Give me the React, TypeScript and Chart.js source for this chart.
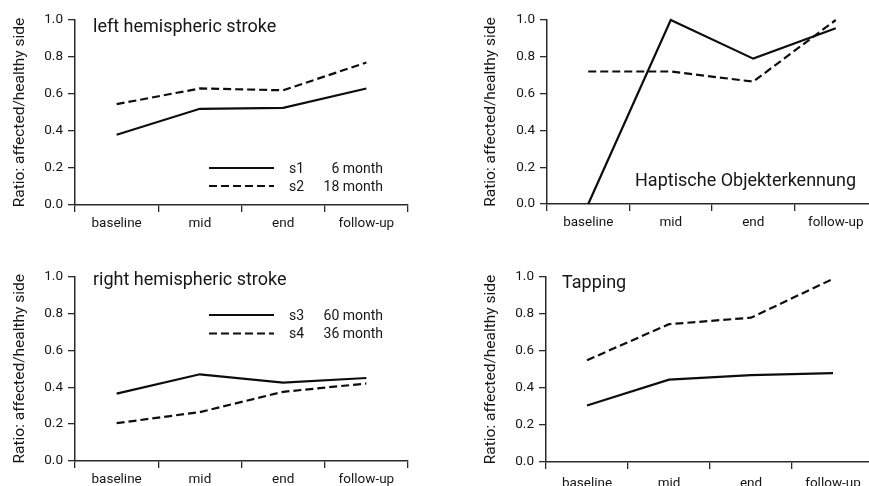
import React, { useEffect, useRef } from "react";
import { Chart, registerables } from "chart.js";

Chart.register(...registerables);

// ---------- data ----------
const categories = ["baseline", "mid", "end", "follow-up"];
const yTickValues = [0, 0.2, 0.4, 0.6, 0.8, 1.0];
const yAxisTitle = "Ratio: affected/healthy side";

const leftS1 = [0.38, 0.52, 0.525, 0.63];
const leftS2 = [0.545, 0.63, 0.62, 0.77];
const haptSolid = [0.0, 1.0, 0.79, 0.955];
const haptDashed = [0.72, 0.72, 0.665, 1.0];
const rightS3 = [0.365, 0.47, 0.425, 0.45];
const rightS4 = [0.205, 0.265, 0.375, 0.42];
const tapSolid = [0.305, 0.445, 0.47, 0.48];
const tapDashed = [0.55, 0.745, 0.78, 0.99];

const panelTitles = [
  "left hemispheric stroke",
  "Haptische Objekterkennung",
  "right hemispheric stroke",
  "Tapping",
];
const topLegendIds = ["s1", "s2"];
const topLegendDurations = ["6 month", "18 month"];
const bottomLegendIds = ["s3", "s4"];
const bottomLegendDurations = ["60 month", "36 month"];

// ---------- styles ----------
const FONT = "Roboto, 'DejaVu Sans', sans-serif";
const TEXT = "#161616";
const AXIS = "#2a2a2a";
const LINE = "#0d0d0d";
const DASH = [8, 4];

type Legend = {
  ids: string[];
  durs: string[];
  lineX0: number;
  lineX1: number;
  textX: number;
  durRight: number;
  y0: number;
  step: number;
};

type Panel = {
  left: number;
  top: number;
  w: number;
  h: number;
  padLeft: number;
  padTop: number;
  padRight: number;
  yWidth: number;
  xHeight: number;
  xPad: number;
  solid: number[];
  dashed: number[];
  title: string;
  titleDx: number;
  titleDy: number;
  legend?: Legend;
};

const panels: Panel[] = [
  {
    left: 0, top: 0, w: 434, h: 243,
    padLeft: 0, padTop: 20, padRight: 26, yWidth: 75, xHeight: 38, xPad: 4,
    solid: leftS1, dashed: leftS2, title: panelTitles[0], titleDx: 18, titleDy: 12,
    legend: { ids: topLegendIds, durs: topLegendDurations, lineX0: 134, lineX1: 199, textX: 214, durRight: 308, y0: 148, step: 18 },
  },
  {
    left: 434, top: 0, w: 450, h: 243,
    padLeft: 37, padTop: 20, padRight: 7, yWidth: 76, xHeight: 39, xPad: 4,
    solid: haptSolid, dashed: haptDashed, title: panelTitles[1], titleDx: 88, titleDy: 166,
  },
  {
    left: 0, top: 243, w: 434, h: 260,
    padLeft: 0, padTop: 33.5, padRight: 26, yWidth: 75, xHeight: 42, xPad: 4,
    solid: rightS3, dashed: rightS4, title: panelTitles[2], titleDx: 18, titleDy: 8.5,
    legend: { ids: bottomLegendIds, durs: bottomLegendDurations, lineX0: 134, lineX1: 199, textX: 214, durRight: 308, y0: 38.5, step: 18.5 },
  },
  {
    left: 434, top: 243, w: 450, h: 260,
    padLeft: 37, padTop: 34, padRight: 10, yWidth: 75, xHeight: 41, xPad: 7,
    solid: tapSolid, dashed: tapDashed, title: panelTitles[3], titleDx: 16, titleDy: 11,
  },
];

function makeOverlay(p: Panel) {
  return {
    id: "overlay",
    afterDraw(chart: any) {
      const { ctx, chartArea } = chart;
      ctx.save();
      ctx.fillStyle = TEXT;
      ctx.font = `18px ${FONT}`;
      ctx.textAlign = "left";
      ctx.textBaseline = "alphabetic";
      ctx.fillText(p.title, chartArea.left + p.titleDx, chartArea.top + p.titleDy);
      if (p.legend) {
        const lg = p.legend;
        chart.data.datasets.forEach((ds: any, i: number) => {
          const y = chartArea.top + lg.y0 + i * lg.step;
          ctx.strokeStyle = ds.borderColor;
          ctx.lineWidth = ds.borderWidth;
          ctx.setLineDash(ds.borderDash || []);
          ctx.beginPath();
          ctx.moveTo(chartArea.left + lg.lineX0, y);
          ctx.lineTo(chartArea.left + lg.lineX1, y);
          ctx.stroke();
          ctx.setLineDash([]);
          ctx.font = `14px ${FONT}`;
          ctx.fillStyle = TEXT;
          ctx.textBaseline = "middle";
          ctx.textAlign = "left";
          ctx.fillText(lg.ids[i], chartArea.left + lg.textX, y + 1);
          ctx.textAlign = "right";
          ctx.fillText(lg.durs[i], chartArea.left + lg.durRight, y + 1);
        });
      }
      ctx.restore();
    },
  };
}

function PanelChart({ p }: { p: Panel }) {
  const ref = useRef<HTMLCanvasElement | null>(null);
  useEffect(() => {
    if (!ref.current) return;
    const chart = new Chart(ref.current, {
      type: "line",
      data: {
        labels: categories,
        datasets: [
          {
            label: p.legend ? p.legend.ids[0] : "solid",
            data: p.solid,
            borderColor: LINE,
            borderWidth: 2.2,
            pointRadius: 0,
            tension: 0,
            fill: false,
            clip: false as any,
          },
          {
            label: p.legend ? p.legend.ids[1] : "dashed",
            data: p.dashed,
            borderColor: LINE,
            borderWidth: 2.2,
            borderDash: DASH,
            pointRadius: 0,
            tension: 0,
            fill: false,
            clip: false as any,
          },
        ],
      },
      options: {
        animation: false,
        responsive: false,
        maintainAspectRatio: false,
        layout: {
          padding: { left: p.padLeft, top: p.padTop, right: p.padRight, bottom: 0 },
        },
        plugins: {
          legend: { display: false },
          tooltip: { enabled: false },
        },
        scales: {
          x: {
            type: "category",
            offset: true,
            grid: {
              offset: true,
              drawOnChartArea: false,
              drawTicks: true,
              tickLength: 7,
              color: AXIS,
              lineWidth: 1.3,
            },
            border: { display: true, color: AXIS, width: 1.5 },
            ticks: {
              color: TEXT,
              padding: p.xPad,
              autoSkip: false,
              maxRotation: 0,
              font: { family: FONT, size: 13.5 },
            },
            afterFit: (scale: any) => {
              scale.height = p.xHeight;
            },
          },
          y: {
            type: "linear",
            min: 0,
            max: 1,
            afterBuildTicks: (scale: any) => {
              scale.ticks = yTickValues.map((v) => ({ value: v }));
            },
            grid: {
              drawOnChartArea: false,
              drawTicks: true,
              tickLength: 7,
              color: AXIS,
              lineWidth: 1.3,
            },
            border: { display: true, color: AXIS, width: 1.5 },
            ticks: {
              color: TEXT,
              padding: 5,
              font: { family: FONT, size: 13.5 },
              callback: (v: any) => Number(v).toFixed(1),
            },
            title: {
              display: true,
              text: yAxisTitle,
              color: TEXT,
              font: { family: FONT, size: 15.5 },
              padding: { top: 11, bottom: 0 },
            },
            afterFit: (scale: any) => {
              scale.width = p.yWidth;
            },
          },
        },
      },
      plugins: [makeOverlay(p)],
    } as any);
    return () => chart.destroy();
  }, [p]);
  return (
    <canvas
      ref={ref}
      width={p.w}
      height={p.h}
      style={{ position: "absolute", left: p.left, top: p.top, width: p.w, height: p.h }}
    />
  );
}

export default function App() {
  return (
    <div
      style={{
        position: "fixed",
        left: 0,
        top: 0,
        width: 869,
        height: 486,
        overflow: "hidden",
        background: "#fff",
      }}
    >
      {panels.map((p, i) => (
        <PanelChart key={i} p={p} />
      ))}
    </div>
  );
}
